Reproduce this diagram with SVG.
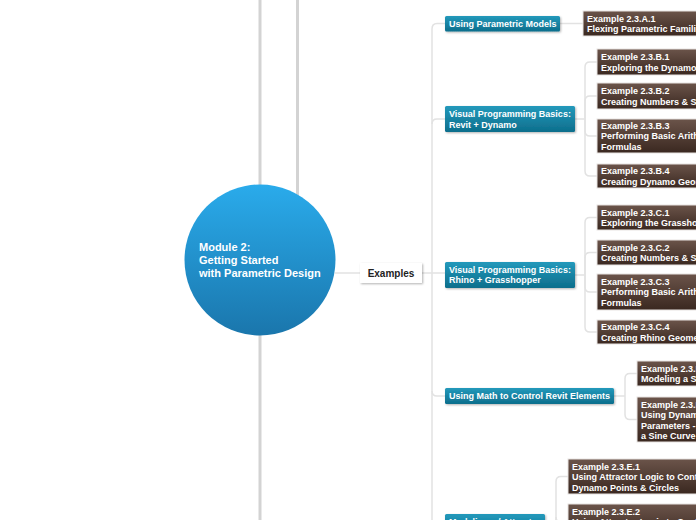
<svg xmlns="http://www.w3.org/2000/svg" width="696" height="520" viewBox="0 0 696 520">
<defs>
<linearGradient id="gCircle" x1="0" y1="0" x2="0" y2="1"><stop offset="0" stop-color="#2aabeb"/><stop offset="1" stop-color="#1a76ac"/></linearGradient>
<linearGradient id="gBlue" x1="0" y1="0" x2="0" y2="1"><stop offset="0" stop-color="#2399bb"/><stop offset="1" stop-color="#0d6e8c"/></linearGradient>
<linearGradient id="gBrown" x1="0" y1="0" x2="0" y2="1"><stop offset="0" stop-color="#6b544a"/><stop offset="1" stop-color="#3a2820"/></linearGradient>
<filter id="sh" x="-10%" y="-20%" width="130%" height="160%"><feDropShadow dx="1" dy="1" stdDeviation="1" flood-color="#000" flood-opacity="0.3"/></filter>
</defs>
<style>
.bar{stroke:#d3d3d3;stroke-width:3;fill:none}
.con{stroke:#e2e2e2;stroke-width:1.5;fill:none}
.blue rect{fill:url(#gBlue);filter:url(#sh)}
.brown rect{fill:url(#gBrown);stroke:#e8e4e2;stroke-width:1}
.t{font-family:"Liberation Sans",Arial,sans-serif;font-weight:bold;font-size:9px;fill:#fff}
.c{font-family:"Liberation Sans",Arial,sans-serif;font-weight:bold;font-size:11px;fill:#fff}
.e{font-family:"Liberation Sans",Arial,sans-serif;font-weight:bold;font-size:10px;fill:#222}
</style>
<line class="bar" x1="260" y1="0" x2="260" y2="520"/>
<line class="bar" x1="297.5" y1="0" x2="297.5" y2="210"/>
<g id="connectors">
<path class="con" d="M335,273 H360"/>
<path class="con" d="M422,273 H432"/>
<path class="con" d="M432,520 V29 Q432,23.5 437,23.5 H445"/>
<path class="con" d="M432,124 Q432,119 437,119 H445"/>
<path class="con" d="M432,273 H445"/>
<path class="con" d="M432,391 Q432,396 437,396 H445"/>
<path class="con" d="M560,23.5 H583"/>
<path class="con" d="M575,119 H585"/>
<path class="con" d="M585,119 V67 Q585,62 590,62 H597"/>
<path class="con" d="M585,119 V101 Q585,96 590,96 H597"/>
<path class="con" d="M585,119 V131 Q585,136 590,136 H597"/>
<path class="con" d="M585,119 V171 Q585,176 590,176 H597"/>
<path class="con" d="M575,275 H585"/>
<path class="con" d="M585,275 V222.5 Q585,217.5 590,217.5 H597"/>
<path class="con" d="M585,275 V257.5 Q585,252.5 590,252.5 H597"/>
<path class="con" d="M585,275 V287 Q585,292 590,292 H597"/>
<path class="con" d="M585,275 V327 Q585,332 590,332 H597"/>
<path class="con" d="M614,396 H625"/>
<path class="con" d="M625,396 V378.5 Q625,373.5 630,373.5 H637"/>
<path class="con" d="M625,396 V414.5 Q625,419.5 630,419.5 H637"/>
<path class="con" d="M545,527 H556"/>
<path class="con" d="M556,527 V481.5 Q556,476.5 561,476.5 H568"/>
<path class="con" d="M556,527 V517 Q556,522 561,522 H568"/>
</g>
<g id="root">
<circle cx="260" cy="260" r="75.5" fill="url(#gCircle)"/>
<text class="c" x="199" y="251">Module 2:</text>
<text class="c" x="199" y="264">Getting Started</text>
<text class="c" x="199" y="277">with Parametric Design</text>
</g>
<g id="examples">
<rect x="360" y="263" width="62" height="20" fill="#fff" filter="url(#sh)"/>
<text class="e" x="391" y="277" text-anchor="middle">Examples</text>
</g>
<g id="blueA" class="blue"><rect x="445" y="16" width="115" height="15.5" rx="1.5"/><text class="t" x="449" y="26.7">Using Parametric Models</text></g>
<g id="blueB" class="blue"><rect x="445" y="106" width="130" height="26" rx="1.5"/><text class="t" x="449" y="117.3">Visual Programming Basics:</text><text class="t" x="449" y="127.8">Revit + Dynamo</text></g>
<g id="blueC" class="blue"><rect x="445" y="262" width="130" height="26" rx="1.5"/><text class="t" x="449" y="272.8">Visual Programming Basics:</text><text class="t" x="449" y="283.3">Rhino + Grasshopper</text></g>
<g id="blueD" class="blue"><rect x="445" y="388" width="169" height="16" rx="1.5"/><text class="t" x="449" y="399">Using Math to Control Revit Elements</text></g>
<g id="blueE" class="blue"><rect x="445" y="514" width="100" height="26" rx="1.5"/><text class="t" x="449" y="525">Modeling w/ Attractors</text></g>
<g id="A1" class="brown"><rect x="583" y="11" width="150" height="25"/><text class="t" x="587" y="21.5">Example 2.3.A.1</text><text class="t" x="587" y="32">Flexing Parametric Families</text></g>
<g id="B1" class="brown"><rect x="597" y="49" width="150" height="26"/><text class="t" x="601" y="60">Example 2.3.B.1</text><text class="t" x="601" y="70.5">Exploring the Dynamo Interface</text></g>
<g id="B2" class="brown"><rect x="597" y="83" width="150" height="26"/><text class="t" x="601" y="94">Example 2.3.B.2</text><text class="t" x="601" y="104.5">Creating Numbers &amp; Strings</text></g>
<g id="B3" class="brown"><rect x="597" y="119" width="150" height="34"/><text class="t" x="601" y="128.5">Example 2.3.B.3</text><text class="t" x="601" y="139.3">Performing Basic Arithmetic &amp;</text><text class="t" x="601" y="150">Formulas</text></g>
<g id="B4" class="brown"><rect x="597" y="164" width="150" height="24"/><text class="t" x="601" y="174">Example 2.3.B.4</text><text class="t" x="601" y="184.5">Creating Dynamo Geometry</text></g>
<g id="C1" class="brown"><rect x="597" y="205" width="150" height="25"/><text class="t" x="601" y="215.5">Example 2.3.C.1</text><text class="t" x="601" y="226">Exploring the Grasshopper Interface</text></g>
<g id="C2" class="brown"><rect x="597" y="240" width="150" height="25"/><text class="t" x="601" y="250.5">Example 2.3.C.2</text><text class="t" x="601" y="261">Creating Numbers &amp; Strings</text></g>
<g id="C3" class="brown"><rect x="597" y="274" width="150" height="36"/><text class="t" x="601" y="284.5">Example 2.3.C.3</text><text class="t" x="601" y="295.3">Performing Basic Arithmetic &amp;</text><text class="t" x="601" y="306">Formulas</text></g>
<g id="C4" class="brown"><rect x="597" y="320" width="150" height="24"/><text class="t" x="601" y="330">Example 2.3.C.4</text><text class="t" x="601" y="340.5">Creating Rhino Geometry</text></g>
<g id="D1" class="brown"><rect x="637" y="361" width="150" height="25"/><text class="t" x="641" y="371.5">Example 2.3.D.1</text><text class="t" x="641" y="382">Modeling a Sine Curve</text></g>
<g id="D2" class="brown"><rect x="637" y="397" width="150" height="45"/><text class="t" x="641" y="407.5">Example 2.3.D.2</text><text class="t" x="641" y="418">Using Dynamo to Drive Revit</text><text class="t" x="641" y="428.5">Parameters - Following</text><text class="t" x="641" y="439">a Sine Curve</text></g>
<g id="E1" class="brown"><rect x="568" y="459" width="150" height="35"/><text class="t" x="572" y="469.5">Example 2.3.E.1</text><text class="t" x="572" y="480">Using Attractor Logic to Control</text><text class="t" x="572" y="490.5">Dynamo Points &amp; Circles</text></g>
<g id="E2" class="brown"><rect x="568" y="504" width="150" height="35"/><text class="t" x="572" y="514.5">Example 2.3.E.2</text><text class="t" x="572" y="525">Using Attractor Logic to Control</text></g>
</svg>
